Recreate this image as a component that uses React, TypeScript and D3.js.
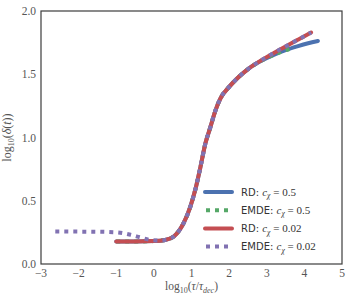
import React, { useEffect } from 'react';
import * as d3 from 'd3';

// log10(tau/tau_dec) samples and log10(delta) values
const rdHalfX = [-1, -0.5, 0, 0.3, 0.53, 0.79, 0.97, 1.1, 1.24, 1.37, 1.5, 1.64, 1.77, 2.0, 2.26, 2.52, 2.88, 3.2, 3.5, 3.81, 4.1, 4.36];
const rdHalfY = [0.178, 0.178, 0.181, 0.19, 0.218, 0.323, 0.454, 0.586, 0.77, 0.954, 1.08, 1.217, 1.31, 1.4, 1.48, 1.545, 1.61, 1.655, 1.69, 1.72, 1.745, 1.763];

const emdeHalfX = [-1, -0.5, 0, 0.3, 0.53, 0.79, 0.97, 1.1, 1.24, 1.37, 1.5, 1.64, 1.77, 2.0, 2.26, 2.52, 2.88, 3.2, 3.5, 3.68];
const emdeHalfY = [0.178, 0.178, 0.181, 0.19, 0.218, 0.323, 0.454, 0.586, 0.77, 0.954, 1.08, 1.217, 1.31, 1.4, 1.48, 1.545, 1.61, 1.655, 1.69, 1.707];

const rdSmallX = [-1, -0.5, 0, 0.3, 0.53, 0.79, 0.97, 1.1, 1.24, 1.37, 1.5, 1.64, 1.77, 2.0, 2.26, 2.52, 2.88, 3.2, 3.5, 3.81, 4.0, 4.18];
const rdSmallY = [0.178, 0.178, 0.181, 0.19, 0.218, 0.323, 0.454, 0.586, 0.77, 0.954, 1.08, 1.217, 1.31, 1.4, 1.48, 1.545, 1.615, 1.67, 1.72, 1.77, 1.8, 1.83];

const emdeSmallX = [-2.62, -2, -1.5, -1, -0.62, -0.36, -0.09, 0.17, 0.3, 0.53, 0.79, 0.97, 1.1, 1.24, 1.37, 1.5, 1.64, 1.77, 2.0, 2.26, 2.52, 2.88, 3.2, 3.5, 3.81, 4.0, 4.18];
const emdeSmallY = [0.257, 0.256, 0.255, 0.25, 0.231, 0.21, 0.19, 0.186, 0.19, 0.218, 0.323, 0.454, 0.586, 0.77, 0.954, 1.08, 1.217, 1.31, 1.4, 1.48, 1.545, 1.615, 1.67, 1.72, 1.77, 1.8, 1.83];

const xTicks = [-3, -2, -1, 0, 1, 2, 3, 4, 5];
const yTicks = [0, 0.5, 1, 1.5, 2];

const seriesNames = ['RD', 'EMDE', 'RD', 'EMDE'];
const seriesC = ['0.5', '0.5', '0.02', '0.02'];
const seriesColors = ['#4C72B0', '#55A868', '#C44E52', '#8172B2'];
const seriesDotted = [false, true, false, true];

const W = 347;
const H = 294;
const margin = { top: 11, right: 5, bottom: 30, left: 41 };

const serif = '"Liberation Serif", "DejaVu Serif", serif';
const sans = '"DejaVu Sans", sans-serif';

export default function App() {
  useEffect(() => {
    document.body.style.margin = '0';
  }, []);

  const x = d3.scaleLinear().domain([-3, 5]).range([margin.left, W - margin.right]);
  const y = d3.scaleLinear().domain([0, 2]).range([H - margin.bottom, margin.top]);

  const line = d3.line<[number, number]>()
    .x(d => x(d[0]))
    .y(d => y(d[1]))
    .curve(d3.curveMonotoneX);

  const zip = (xs: number[], ys: number[]) => xs.map((v, i) => [v, ys[i]] as [number, number]);
  const series = [
    zip(rdHalfX, rdHalfY),
    zip(emdeHalfX, emdeHalfY),
    zip(rdSmallX, rdSmallY),
    zip(emdeSmallX, emdeSmallY),
  ];

  const fmtMinus = (v: number) => (v < 0 ? '\u2212' + Math.abs(v) : String(v));
  const legendX = 205;
  const legendY0 = 192;
  const legendStep = 18.2;

  return (
    <svg width={W} height={H} style={{ display: 'block' }}>
      <rect width={W} height={H} fill="#fff" />
      {series.map((s, i) => (
        <path
          key={i}
          d={line(s) || ''}
          fill="none"
          stroke={seriesColors[i]}
          strokeWidth={4}
          strokeLinecap={seriesDotted[i] ? 'butt' : 'round'}
          strokeDasharray={seriesDotted[i] ? '4,5' : undefined}
        />
      ))}
      <rect
        x={margin.left}
        y={margin.top}
        width={W - margin.left - margin.right}
        height={H - margin.bottom - margin.top}
        fill="none"
        stroke="#3c3c3c"
        strokeWidth={1.2}
      />
      {xTicks.map(t => (
        <text key={t} x={x(t)} y={H - margin.bottom + 13} textAnchor="middle" fontFamily={serif} fontSize={11.5} fill="#555">
          {fmtMinus(t)}
        </text>
      ))}
      {yTicks.map(t => (
        <text key={t} x={margin.left - 5} y={y(t) + 4} textAnchor="end" fontFamily={serif} fontSize={11.5} fill="#555">
          {t.toFixed(1)}
        </text>
      ))}
      <text x={(margin.left + W - margin.right) / 2} y={H - 4} textAnchor="middle" fontFamily={serif} fontSize={11.5} fill="#555">
        log<tspan fontSize={8} dy={3}>10</tspan>
        <tspan dy={-3}>(</tspan>
        <tspan fontStyle="italic">τ</tspan>/<tspan fontStyle="italic">τ</tspan>
        <tspan fontSize={8} fontStyle="italic" dy={3}>dec</tspan>
        <tspan dy={-3}>)</tspan>
      </text>
      <text transform={`translate(11,${(margin.top + H - margin.bottom) / 2}) rotate(-90)`} textAnchor="middle" fontFamily={serif} fontSize={12} fill="#555">
        log<tspan fontSize={8} dy={3}>10</tspan>
        <tspan dy={-3}>(</tspan>
        <tspan fontStyle="italic">δ</tspan>(<tspan fontStyle="italic">t</tspan>))
      </text>
      {seriesNames.map((name, i) => {
        const ly = legendY0 + i * legendStep;
        return (
          <g key={i}>
            <line
              x1={legendX}
              x2={legendX + 27}
              y1={ly}
              y2={ly}
              stroke={seriesColors[i]}
              strokeWidth={4}
              strokeLinecap={seriesDotted[i] ? 'butt' : 'round'}
              strokeDasharray={seriesDotted[i] ? '4,5' : undefined}
              transform={seriesDotted[i] ? 'translate(1,0)' : undefined}
            />
            <text x={legendX + 36} y={ly + 3.7} fontFamily={sans} fontSize={10} fill="#333">
              {name}:{' '}
              <tspan fontFamily={serif} fontStyle="italic" fontSize={11}>c</tspan>
              <tspan fontFamily={serif} fontStyle="italic" fontSize={7.5} dy={2.5}>χ</tspan>
              <tspan fontFamily={serif} fontSize={11} dy={-2.5}> = {seriesC[i]}</tspan>
            </text>
          </g>
        );
      })}
    </svg>
  );
}
